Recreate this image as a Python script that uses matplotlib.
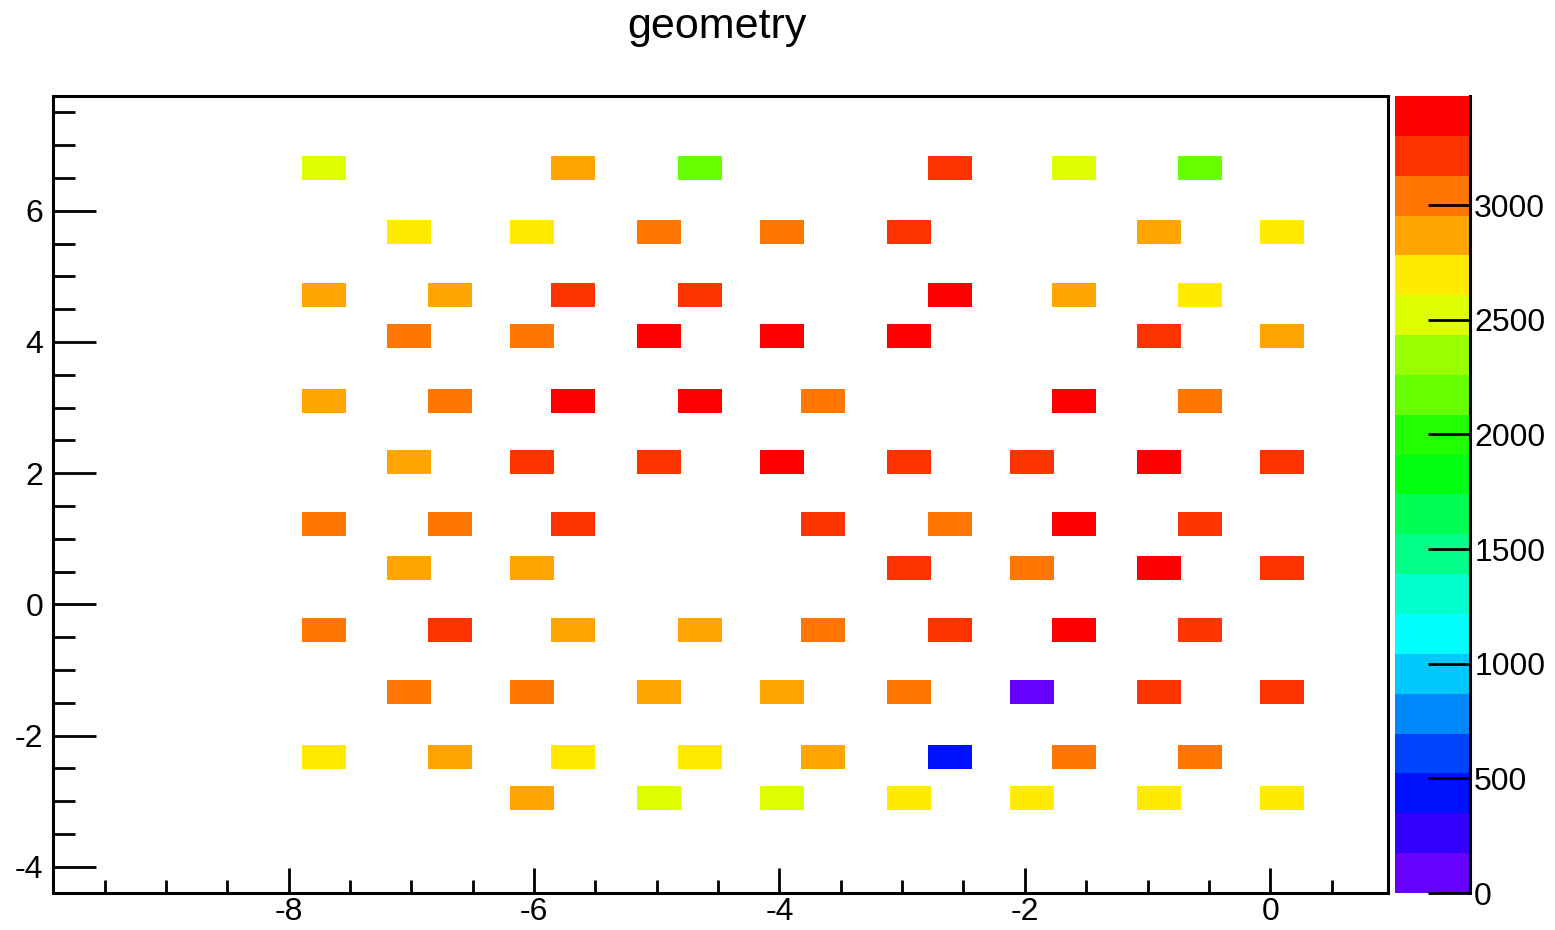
import numpy as np
import matplotlib
matplotlib.use("Agg")
import matplotlib.pyplot as plt
from matplotlib.colors import ListedColormap, BoundaryNorm
from matplotlib.patches import Rectangle
from matplotlib.collections import PatchCollection
from matplotlib.ticker import MultipleLocator

plt.rcParams['font.family'] = ['Liberation Sans', 'DejaVu Sans']
plt.rcParams['axes.unicode_minus'] = False

# filled bins of the geometry map: bin centre (x, y) and content
cell_x = [
  -7.710, -5.680, -4.645, -2.608, -1.597, -0.570,
  -7.017, -6.015, -4.980, -3.977, -2.942, -0.905, 0.098,
  -7.710, -6.683, -5.680, -4.645, -2.608, -1.597, -0.570,
  -7.017, -6.015, -4.980, -3.977, -2.942, -0.905, 0.098,
  -7.710, -6.683, -5.680, -4.645, -3.643, -1.597, -0.570,
  -7.017, -6.015, -4.980, -3.977, -2.942, -1.940, -0.905, 0.098,
  -7.710, -6.683, -5.680, -3.643, -2.608, -1.597, -0.570,
  -7.017, -6.015, -2.942, -1.940, -0.905, 0.098,
  -7.710, -6.683, -5.680, -4.645, -3.643, -2.608, -1.597, -0.570,
  -7.017, -6.015, -4.980, -3.977, -2.942, -1.940, -0.905, 0.098,
  -7.710, -6.683, -5.680, -4.645, -3.643, -2.608, -1.597, -0.570,
  -6.015, -4.980, -3.977, -2.942, -1.940, -0.905, 0.098,
]
cell_y = (
  [6.648] * 6 + [5.679] * 7 + [4.718] * 7 + [4.093] * 7 +
  [3.102] * 7 + [2.164] * 8 + [1.219] * 7 + [0.548] * 6 +
  [-0.390] * 8 + [-1.336] * 8 + [-2.320] * 8 + [-2.953] * 7
)
cell_counts = [
  2525, 2880, 2165, 3205, 2510, 2180,
  2700, 2685, 3035, 3050, 3220, 2860, 2695,
  2875, 2865, 3210, 3195, 3395, 2870, 2705,
  3045, 3030, 3400, 3410, 3385, 3215, 2880,
  2860, 3040, 3430, 3476, 3035, 3405, 3050,
  2875, 3200, 3215, 3390, 3210, 3225, 3395, 3205,
  3030, 3045, 3220, 3210, 3040, 3400, 3215,
  2870, 2885, 3205, 3045, 3380, 3210,
  3040, 3220, 2865, 2870, 3035, 3215, 3395, 3200,
  3050, 3035, 2880, 2860, 3045, 95, 3210, 3220,
  2690, 2875, 2700, 2695, 2880, 440, 3040, 3030,
  2865, 2515, 2530, 2700, 2690, 2705, 2685,
]
z_ticks = [0, 500, 1000, 1500, 2000, 2500, 3000]

BIN_W = 0.359
BIN_H = 0.366

# rainbow palette, one colour per contour level (violet -> red)
palette = [
  "#6600ff", "#3300ff", "#0011ff", "#0044ff", "#0088ff",
  "#00c8ff", "#00ffff", "#00ffcc", "#00ff88", "#00ff55",
  "#00ff11", "#22ff00", "#66ff00", "#99ff00", "#ddff00",
  "#ffeb00", "#ffa500", "#ff7700", "#ff3300", "#ff0000",
]
n_levels = len(palette)
cmap = ListedColormap(palette)
zmax = max(cell_counts)
norm = BoundaryNorm(np.linspace(0, zmax, n_levels + 1), n_levels)

W, H = 1555, 930
fig = plt.figure(figsize=(W / 100, H / 100), dpi=100)
ax = fig.add_axes([53 / W, 1 - 893 / H, (1388 - 53) / W, (893 - 96) / H])
cax = fig.add_axes([1395 / W, 1 - 893 / H, 75 / W, (893 - 96) / H])

boxes = [Rectangle((x - BIN_W / 2, y - BIN_H / 2), BIN_W, BIN_H)
         for x, y in zip(cell_x, cell_y)]
pc = PatchCollection(boxes, cmap=cmap, norm=norm, linewidth=0, antialiased=False)
pc.set_array(np.array(cell_counts))
ax.add_collection(pc)

ax.set_xlim(-9.92, 0.96)
ax.set_ylim(-4.40, 7.75)

for sp in ax.spines.values():
  sp.set_linewidth(2.2)

ax.xaxis.set_major_locator(MultipleLocator(2))
ax.xaxis.set_minor_locator(MultipleLocator(0.5))
ax.yaxis.set_major_locator(MultipleLocator(2))
ax.yaxis.set_minor_locator(MultipleLocator(0.5))
ax.tick_params(which='both', direction='in', top=False, right=False,
               width=2.0, labelsize=23, color='black')
ax.tick_params(axis='x', which='major', length=18, pad=3)
ax.tick_params(axis='x', which='minor', length=9.5)
ax.tick_params(axis='y', which='major', length=31, pad=7)
ax.tick_params(axis='y', which='minor', length=16)

cbar = fig.colorbar(pc, cax=cax, ticks=z_ticks, spacing='proportional')
cbar.outline.set_visible(False)
cbar.minorticks_off()
cax.spines['right'].set_visible(True)
cax.spines['right'].set_linewidth(2.2)
cax.tick_params(direction='in', length=30, width=2.0, labelsize=23, pad=3)

fig.text(717 / W, 1 - 38 / H, 'geometry', ha='center', va='baseline', fontsize=31)

fig.savefig('out.png', dpi=100)
